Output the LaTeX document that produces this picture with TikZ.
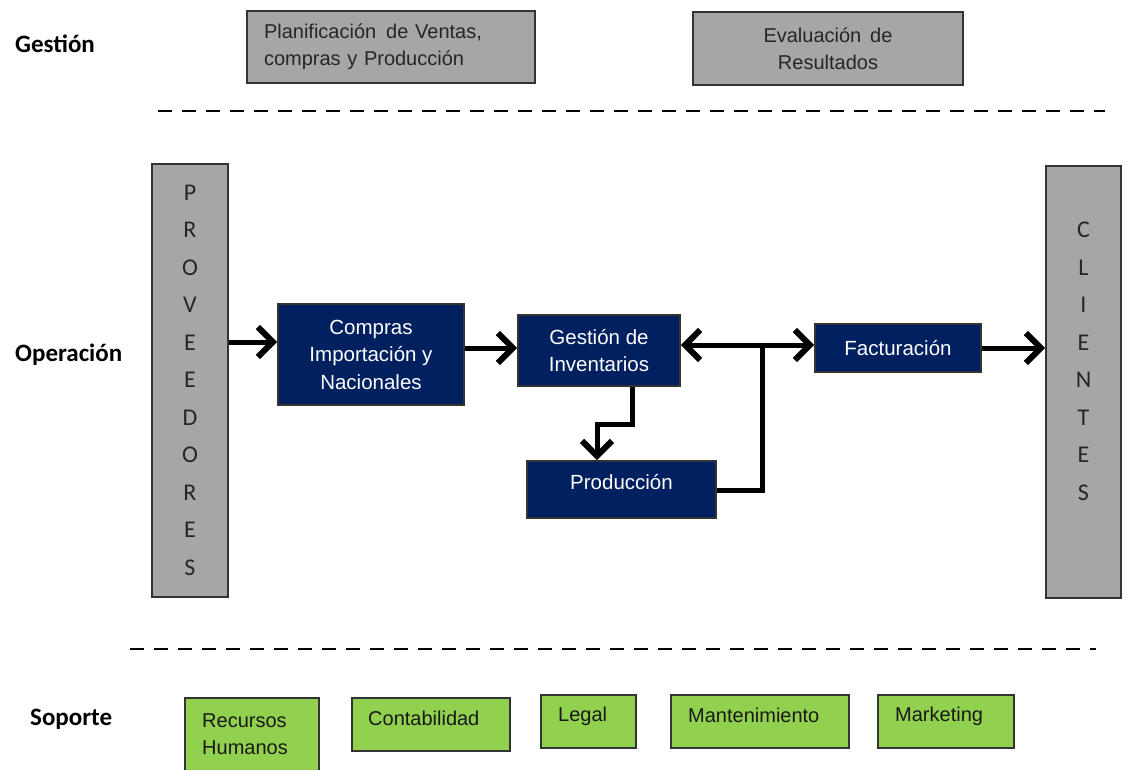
\documentclass[tikz,border=0pt]{standalone}
\usepackage{fontspec}
\setmainfont{Liberation Sans}
\newfontfamily\calfont{Carlito}
\usetikzlibrary{arrows.meta}
\definecolor{boxgray}{HTML}{A6A6A6}
\definecolor{navy}{HTML}{002060}
\definecolor{leaf}{HTML}{92D050}
\definecolor{edge}{HTML}{333333}

\begin{document}
\begin{tikzpicture}[x=1pt,y=-1pt,
  box/.style={draw=edge,line width=1.6pt,rectangle,inner sep=0pt},
  graybox/.style={box,fill=boxgray,font=\fontsize{20}{27}\selectfont,text=black!85},
  navybox/.style={box,fill=navy,text=white,font=\fontsize{20.5}{27.5}\selectfont,align=center},
  navytext/.style={text=white,font=\fontsize{20.5}{27.5}\selectfont,inner sep=0pt},
  greenbox/.style={box,fill=leaf},
  greentext/.style={font=\fontsize{20}{27.5}\selectfont,align=left,inner sep=0pt,anchor=west,text=black!90},
  lane/.style={font=\calfont\bfseries\fontsize{25}{30}\selectfont,anchor=west,inner sep=0pt},
  letters/.style={font=\calfont\fontsize{24}{37.5}\selectfont,align=center,text=black!85,inner sep=0pt},
  tip/.tip={Straight Barb[length=15pt,width=30pt,line width=0pt 1.2]},
  flow/.style={line width=5pt,line join=miter,-tip},
  link/.style={line width=5pt,line join=miter},
  sep/.style={line width=2.8pt,dash pattern=on 14pt off 10pt}]

\clip (0,0) rectangle (1125,770);
\fill[white] (0,0) rectangle (1125,770);

% lane titles
\node[lane] (lg) at (15,44) {Gestión};
\node[lane] (lo) at (15,355) {Operación};
\node[lane] (ls) at (30,719) {Soporte};

% management boxes
\node[graybox,minimum width=288,minimum height=72,text width=254,align=left] (plan) at (391,47)
  {Planificación\, de Ventas,\\compras y Producción};
\node[graybox,minimum width=270,minimum height=73,align=center] (eval) at (828,48.5)
  {Evaluación\, de\\Resultados};

% lane separators
\draw[sep] (158,111) -- (1105,111);
\draw[sep] (130,649) -- (1096,649);

% suppliers and customers
\node[box,fill=boxgray,minimum width=76,minimum height=433] (prov) at (190,380.5) {};
\node[letters] (provt) at (190,380) {P\\R\\O\\V\\E\\E\\D\\O\\R\\E\\S};
\node[box,fill=boxgray,minimum width=75,minimum height=432] (cli) at (1083.5,382) {};
\node[letters] (clit) at (1083.5,361.5) {C\\L\\I\\E\\N\\T\\E\\S};

% operation boxes
\node[navybox,minimum width=186,minimum height=101] (compras) at (371,354.5)
  {Compras\\Importación y\\Nacionales};
\node[navybox,minimum width=162,minimum height=71] (inv) at (599,350.5)
  {Gestión de\\Inventarios};
\node[navybox,minimum width=166,minimum height=48] (fact) at (898,348) {Facturación};
\node[navybox,minimum width=189,minimum height=57] (prod) at (621.5,489.5) {};
\node[navytext] (prodt) at (621.5,482) {Producción};

% flows
\coordinate (j) at (762,345);
\draw[flow] (prov.east |- 0,342) -- (compras.west |- 0,342);
\draw[flow] (compras.east |- 0,348) -- (inv.west |- 0,348);
\draw[flow,tip-tip] (inv.east |- j) -- (fact.west |- j);
\draw[link] (prod.east |- 0,490) -| (j);
\draw[flow] ([xshift=33pt]inv.south) -- ++(0,38) -| ([xshift=-24.5pt]prod.north);
\draw[flow] (fact.east) -- (cli.west |- fact.east);

% support boxes
\node[greenbox,minimum width=134,minimum height=90,anchor=north west] (rh) at (184,697) {};
\node[greentext] (rht) at (202,734) {Recursos\\Humanos};
\node[greenbox,minimum width=158,minimum height=53,anchor=north west] (cont) at (351,697) {};
\node[greentext] (contt) at (368,718) {Contabilidad};
\node[greenbox,minimum width=95,minimum height=53,anchor=north west] (legal) at (540,694) {};
\node[greentext] (legalt) at (558,716) {Legal};
\node[greenbox,minimum width=178,minimum height=53,anchor=north west] (mant) at (670,694) {};
\node[greentext] (mantt) at (688,715) {Mantenimiento};
\node[greenbox,minimum width=136,minimum height=53,anchor=north west] (mark) at (877,694) {};
\node[greentext] (markt) at (895,716) {Marketing};
\end{tikzpicture}
\end{document}
